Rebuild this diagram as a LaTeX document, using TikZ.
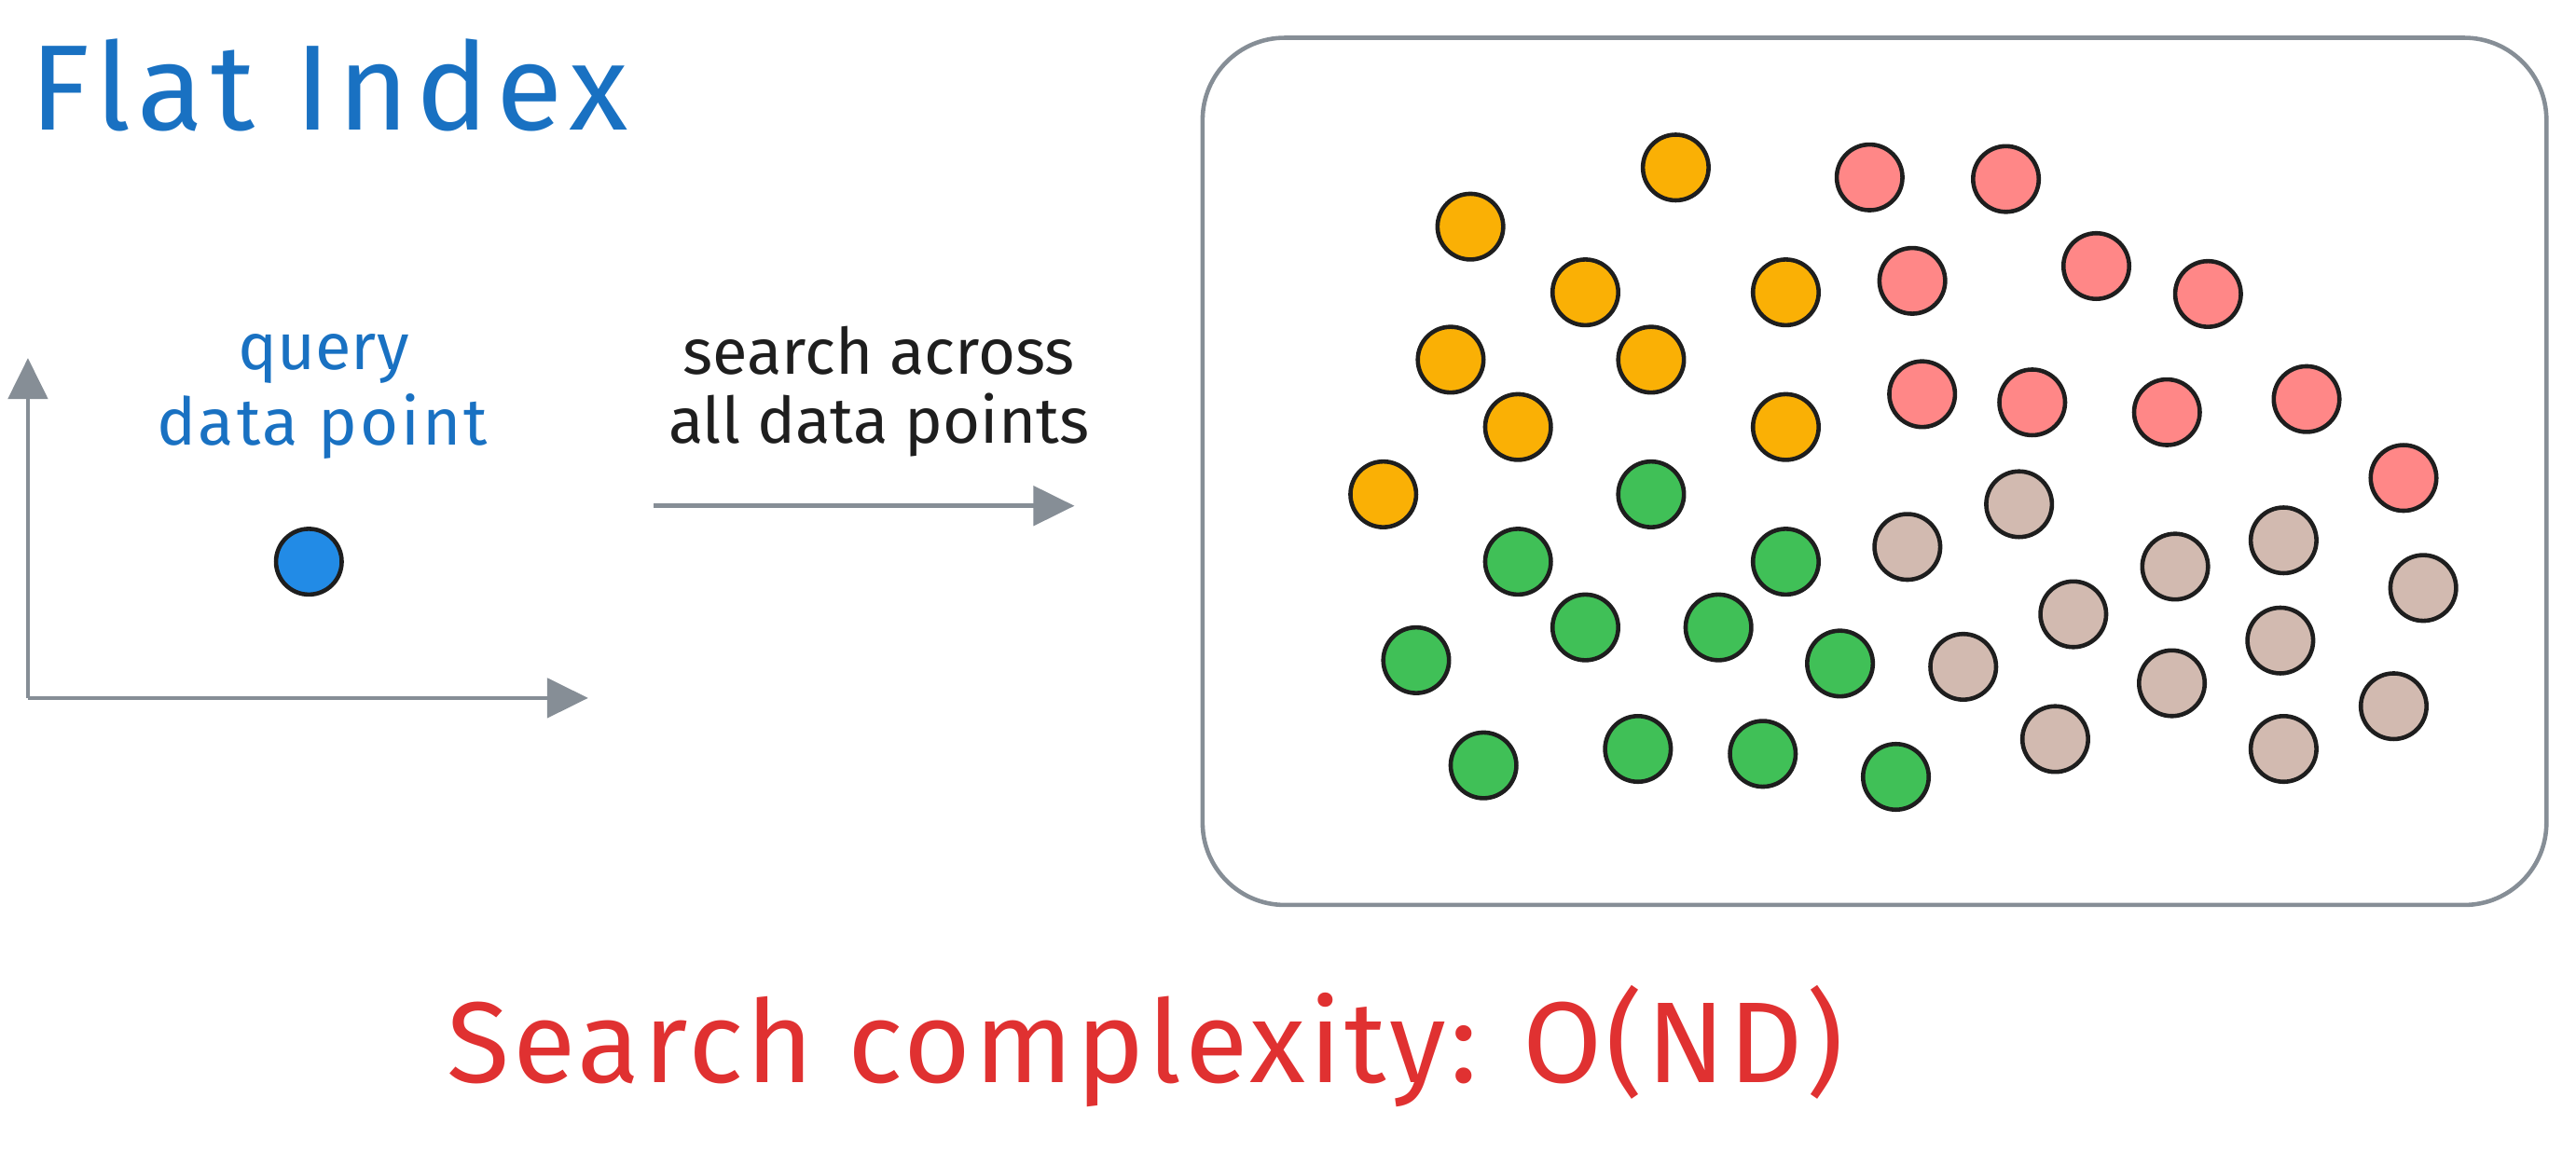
\documentclass[tikz,border=0pt]{standalone}
\usepackage{fontspec}
\setmainfont{Fira Sans}
\usetikzlibrary{arrows.meta}
\definecolor{ink}{HTML}{1E1E1E}
\definecolor{axisgray}{HTML}{868E96}
\definecolor{tblue}{HTML}{1971C2}
\definecolor{qblue}{HTML}{228BE6}
\definecolor{cor}{HTML}{FAB005}
\definecolor{cpk}{HTML}{FF8787}
\definecolor{cgr}{HTML}{40C057}
\definecolor{ctn}{HTML}{D2BAB0}
\definecolor{cred}{HTML}{E03131}
\begin{document}
\begin{tikzpicture}[x=1pt,y=-1pt,
  dotnode/.style={circle,draw=ink,line width=2.6pt,minimum size=40pt,inner sep=0pt},
  grayarrow/.style={draw=axisgray,line width=2.6pt,-{Triangle[length=25pt,width=24pt]}},
  od/.style={dotnode,fill=cor},
  pd/.style={dotnode,fill=cpk},
  gd/.style={dotnode,fill=cgr},
  td/.style={dotnode,fill=ctn}]
\useasboundingbox (0,0) rectangle (1568,701);
% title
\node (title) [anchor=base west,inner sep=0,text=tblue,font=\fontsize{74}{88}\selectfont\addfontfeatures{LetterSpace=6}] at (18,79) {Flat Index};
% axes
\coordinate (origin) at (17,425);
\coordinate (ytip) at (17,218);
\coordinate (xtip) at (358,425);
\draw[grayarrow] (origin) -- (ytip);
\draw[grayarrow] (origin) -- (xtip);
% query
\node (q1) [anchor=base,inner sep=0,text=tblue,font=\fontsize{40}{48}\selectfont] at (197,225) {query};
\node (q2) [anchor=base,inner sep=0,text=tblue,font=\fontsize{40}{48}\selectfont\addfontfeatures{LetterSpace=4}] at (196,271) {data point};
\node (qdot) [dotnode,fill=qblue] at (188,342) {};
% search label and arrow
\node (s1) [anchor=base,inner sep=0,text=ink,font=\fontsize{39}{48}\selectfont] at (535,228) {search across};
\node (s2) [anchor=base,inner sep=0,text=ink,font=\fontsize{39}{48}\selectfont] at (535,270) {all data points};
\coordinate (sa) at (398,308);
\coordinate (sb) at (654,308);
\draw[grayarrow] (sa) -- (sb);
% box
\node (box) [draw=axisgray,line width=2.6pt,rounded corners=50pt,minimum width=818pt,minimum height=528pt,inner sep=0] at (1141,287) {};
% orange
\node (o1) [od] at (1020,102) {};
\node (o2) [od] at (895,138) {};
\node (o3) [od] at (965,178) {};
\node (o4) [od] at (1087,178) {};
\node (o5) [od] at (883,219) {};
\node (o6) [od] at (1005,219) {};
\node (o7) [od] at (924,260) {};
\node (o8) [od] at (1087,260) {};
\node (o9) [od] at (842,301) {};
% pink
\node (p1) [pd] at (1138,108) {};
\node (p2) [pd] at (1221,109) {};
\node (p3) [pd] at (1164,171) {};
\node (p4) [pd] at (1276,162) {};
\node (p5) [pd] at (1344,179) {};
\node (p6) [pd] at (1170,240) {};
\node (p7) [pd] at (1237,245) {};
\node (p8) [pd] at (1319,251) {};
\node (p9) [pd] at (1404,243) {};
\node (p10) [pd] at (1463,291) {};
% green
\node (g1) [gd] at (1005,301) {};
\node (g2) [gd] at (924,342) {};
\node (g3) [gd] at (1087,342) {};
\node (g4) [gd] at (965,382) {};
\node (g5) [gd] at (1046,382) {};
\node (g6) [gd] at (1120,404) {};
\node (g7) [gd] at (862,402) {};
\node (g8) [gd] at (903,466) {};
\node (g9) [gd] at (997,456) {};
\node (g10) [gd] at (1073,459) {};
\node (g11) [gd] at (1154,473) {};
% tan
\node (t1) [td] at (1161,333) {};
\node (t2) [td] at (1229,307) {};
\node (t3) [td] at (1324,345) {};
\node (t4) [td] at (1390,329) {};
\node (t5) [td] at (1475,358) {};
\node (t6) [td] at (1262,374) {};
\node (t7) [td] at (1195,406) {};
\node (t8) [td] at (1322,416) {};
\node (t9) [td] at (1388,390) {};
\node (t10) [td] at (1457,430) {};
\node (t11) [td] at (1251,450) {};
\node (t12) [td] at (1390,456) {};
% bottom
\node (cx) [anchor=base,inner sep=0,text=cred,font=\fontsize{70}{84}\selectfont\addfontfeatures{LetterSpace=3}] at (697,659) {Search complexity: O(ND)};
\end{tikzpicture}
\end{document}
